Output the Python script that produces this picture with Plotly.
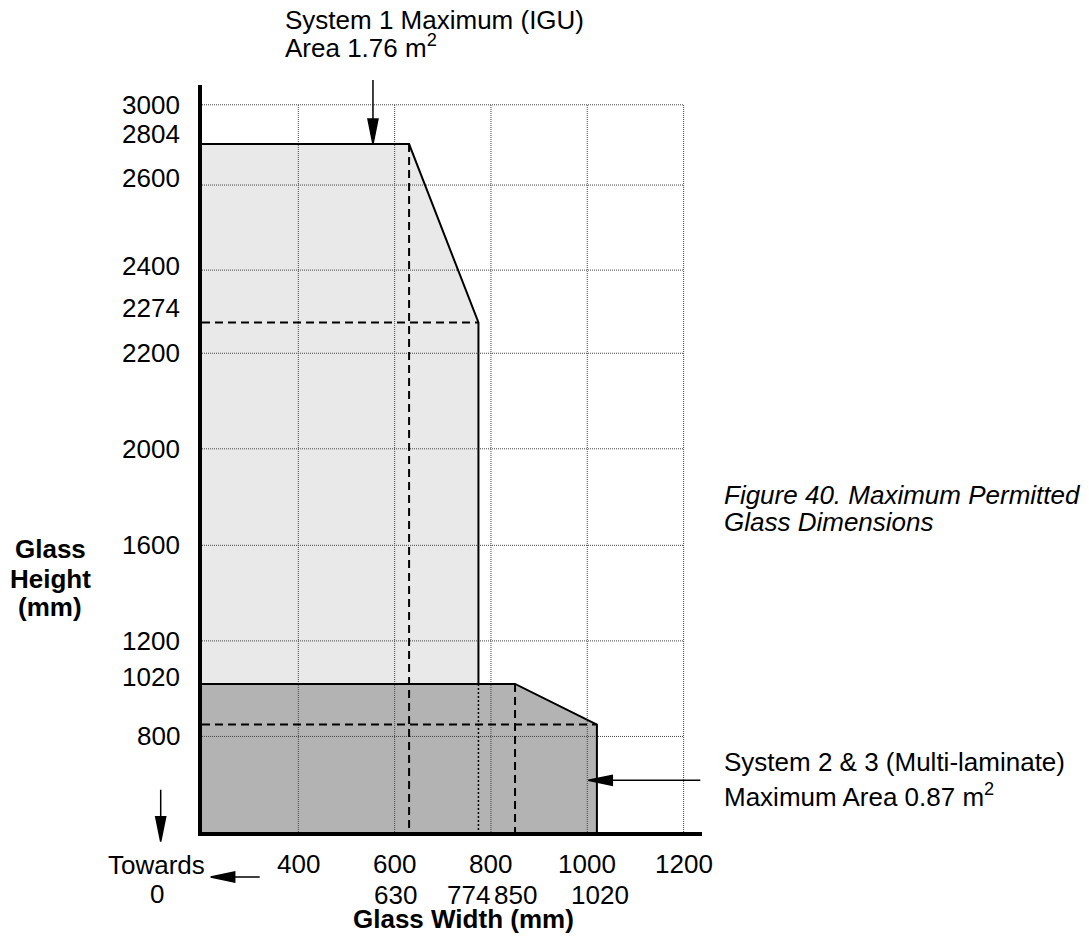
import numpy as np
import plotly.graph_objects as go

# ---- data (mm) ----
X_START = 200          # axes are cut short, "towards 0"
Y_START = 400
SYS1_WIDTH = [630, 774]      # width at max height, max width
SYS1_HEIGHT = [2804, 2274]   # max height, height at max width
SYS2_WIDTH = [850, 1020]
SYS2_HEIGHT = [1020, 850]

X_TICKS = [400, 600, 800, 1000, 1200]
X_MARKS = [630, 774, 850, 1020]
Y_GRID = [800, 1200, 1600, 2000, 2200, 2400, 2600, 3000]
Y_LABELS = [3000, 2804, 2600, 2400, 2274, 2200, 2000, 1600, 1200, 1020, 800]

# the drawing's height axis is not to scale: gridline value -> grid units
Y_SCALE_MM = [400, 800, 1200, 1600, 2000, 2200, 2400, 2600, 3000]
Y_SCALE_POS = [0, 1, 2, 3, 4.01, 5.01, 5.88, 6.77, 7.61]


def ys(v):
    return float(np.interp(v, Y_SCALE_MM, Y_SCALE_POS))


# ---- page geometry (page body has an 8px margin) ----
OFF = 8
W, H = 1089 - OFF, 942 - OFF
L, T = 202 - OFF, 85 - OFF
PW, PH = 500, 747
R, B = W - L - PW, H - T - PH
X_END = X_START + PW / 0.4816
Y_TOP = PH / 95.56

FONT = "Liberation Sans, Arial, sans-serif"
FS = 26


def paper_x(px):
    return (px - OFF - L) / PW


def paper_y(py):
    return (H - B - (py - OFF)) / PH


def segs(pairs):
    xs, yv = [], []
    for (x0, y0), (x1, y1) in pairs:
        xs += [x0, x1, None]
        yv += [ys(y0), ys(y1), None]
    return xs, yv


fig = go.Figure()

# fills
s1x = [X_START, X_START, SYS1_WIDTH[0], SYS1_WIDTH[1], SYS1_WIDTH[1]]
s1y = [Y_START, SYS1_HEIGHT[0], SYS1_HEIGHT[0], SYS1_HEIGHT[1], Y_START]
s2x = [X_START, X_START, SYS2_WIDTH[0], SYS2_WIDTH[1], SYS2_WIDTH[1]]
s2y = [Y_START, SYS2_HEIGHT[0], SYS2_HEIGHT[0], SYS2_HEIGHT[1], Y_START]
fig.add_trace(go.Scatter(x=s1x, y=[ys(v) for v in s1y], fill="toself", fillcolor="#e9e9e9",
                         mode="lines", line=dict(width=0), hoverinfo="skip"))
fig.add_trace(go.Scatter(x=s2x, y=[ys(v) for v in s2y], fill="toself", fillcolor="#b3b3b3",
                         mode="lines", line=dict(width=0), hoverinfo="skip"))

# grid
grid = [((v, Y_START), (v, Y_GRID[-1])) for v in X_TICKS]
grid += [((X_START, v), (X_TICKS[-1], v)) for v in Y_GRID]
gx, gy = segs(grid)
fig.add_trace(go.Scatter(x=gx, y=gy, mode="lines", hoverinfo="skip",
                         line=dict(color="#444444", width=1, dash="1px,1px")))

# dotted continuation of system 1 edge
dx, dy = segs([((SYS1_WIDTH[1], SYS2_HEIGHT[0]), (SYS1_WIDTH[1], Y_START))])
fig.add_trace(go.Scatter(x=dx, y=dy, mode="lines", hoverinfo="skip",
                         line=dict(color="black", width=1.5, dash="2px,2px")))

# dashed guide lines
dash = [
    ((SYS1_WIDTH[0], SYS1_HEIGHT[0]), (SYS1_WIDTH[0], Y_START)),
    ((X_START, SYS1_HEIGHT[1]), (SYS1_WIDTH[1], SYS1_HEIGHT[1])),
    ((SYS2_WIDTH[0], SYS2_HEIGHT[0]), (SYS2_WIDTH[0], Y_START)),
    ((X_START, SYS2_HEIGHT[1]), (SYS2_WIDTH[1], SYS2_HEIGHT[1])),
]
dx, dy = segs(dash)
fig.add_trace(go.Scatter(x=dx, y=dy, mode="lines", hoverinfo="skip",
                         line=dict(color="black", width=2, dash="8px,5px")))

# outlines
fig.add_trace(go.Scatter(x=s1x[1:], y=[ys(v) for v in s1y[1:-1]] + [ys(SYS2_HEIGHT[0])],
                         mode="lines", hoverinfo="skip", line=dict(color="black", width=2)))
fig.add_trace(go.Scatter(x=s2x[1:], y=[ys(v) for v in s2y[1:]],
                         mode="lines", hoverinfo="skip", line=dict(color="black", width=2)))


# ---- arrows (pixel-sized paths) ----
def arrow(xa, ya, path):
    fig.add_shape(type="path", xref="paper", yref="paper", xsizemode="pixel", ysizemode="pixel",
                  xanchor=xa, yanchor=ya, path=path, fillcolor="black",
                  line=dict(color="black", width=1.5))


DOWN = "M0,0 L-5,25 L5,25 Z M0,25 L0,{}"
LEFT = "M0,0 L24,5 L24,-5 Z M24,0 L{},0"
arrow((555 - X_START) / (X_END - X_START), ys(SYS1_HEIGHT[0]) / Y_TOP, DOWN.format(64))
arrow(paper_x(588.3), paper_y(780.3), LEFT.format(112))
arrow(paper_x(210.7), paper_y(877), LEFT.format(49))
arrow(paper_x(160.7), paper_y(841.7), DOWN.format(52))


# ---- text ----
def txt(text, x, y, xanchor="left", xref="paper", yref="paper", **kw):
    fig.add_annotation(text=text, x=x, y=y, xref=xref, yref=yref, xanchor=xanchor,
                       yanchor="middle", showarrow=False,
                       font=dict(family=FONT, size=FS, color="black"), **kw)


Y_NUDGE = {2804: 10, 2600: 7, 2400: 4, 2274: 14, 1020: 7}
for v in Y_LABELS:
    txt(str(v), paper_x(182), ys(v), xanchor="right", yref="y", yshift=Y_NUDGE.get(v, 0))

for v in X_TICKS:
    txt(str(v), v, paper_y(864), xanchor="center", xref="x")
X_NUDGE = {630: -14, 774: -10, 850: 0, 1020: 3}
for v in X_MARKS:
    txt(str(v), v, paper_y(895), xanchor="center", xref="x", xshift=X_NUDGE[v])

txt("Towards", paper_x(156), paper_y(865), xanchor="center")
txt("0", paper_x(156.7), paper_y(894), xanchor="center")
txt("<b>Glass Width (mm)</b>", paper_x(463), paper_y(919), xanchor="center")

txt("<b>Glass</b>", paper_x(50), paper_y(548.7), xanchor="center")
txt("<b>Height</b>", paper_x(50), paper_y(578.7), xanchor="center")
txt("<b>(mm)</b>", paper_x(50), paper_y(606.5), xanchor="center")

txt("System 1 Maximum (IGU)", paper_x(283.3), paper_y(19.7))
txt("Area 1.76 m<sup>2</sup>", paper_x(283.3), paper_y(46))

txt("<i>Figure 40. Maximum Permitted</i>", paper_x(721.7), paper_y(495))
txt("<i>Glass Dimensions</i>", paper_x(721.7), paper_y(522))

txt("System 2 &amp; 3 (Multi-laminate)", paper_x(721.7), paper_y(762))
txt("Maximum Area 0.87 m<sup>2</sup>", paper_x(721.7), paper_y(795))

axis = dict(showline=True, linewidth=4, linecolor="black", showgrid=False, zeroline=False,
            showticklabels=False, ticks="", fixedrange=True)
fig.update_layout(
    width=W, height=H, autosize=False,
    margin=dict(l=L, r=R, t=T, b=B),
    showlegend=False,
    plot_bgcolor="white", paper_bgcolor="white",
    xaxis=dict(range=[X_START, X_END], **axis),
    yaxis=dict(range=[0, Y_TOP], **axis),
)

fig.write_html("out.html")
